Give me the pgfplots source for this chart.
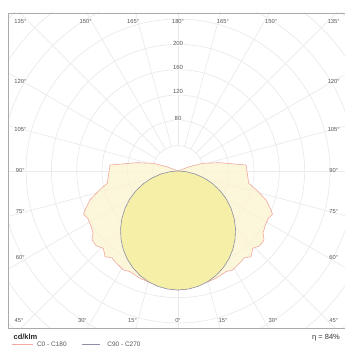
\documentclass[border=0pt]{standalone}
\usepackage{pgfplots}
\usepackage{pgfplotstable}
\pgfplotsset{compat=1.18}
\usepackage{fontspec}
\setmainfont{Liberation Sans}

\definecolor{gridc}{HTML}{EAEAEC}
\definecolor{framec}{HTML}{AAAAAA}
\definecolor{redline}{HTML}{F0A8A0}
\definecolor{redfill}{HTML}{FBF4D4}
\definecolor{circfill}{HTML}{F5EFA8}
\definecolor{circline}{HTML}{8E8EA4}
\definecolor{labelc}{HTML}{555555}

% C0 - C180 : signed gamma (deg), intensity (cd/klm)
\pgfplotstableread{
a I
-112 0
-110.8 19.1
-107.3 40.9
-101.4 66.5
-95 107.9
-80.1 113.4
-76.3 128
-71.8 146.4
-67 160
-65.4 164
-62 161
-57.2 163
-53.9 166.2
-51.3 174
-47.5 175
-44 169.8
-40.4 177.8
-37.2 172.5
-34.8 174.5
-29 178.5
-25.5 176.2
-19.5 179.8
-13.2 182.2
-5.5 186.2
0 188
5.5 186.2
13.2 182.2
19.5 179.8
25.5 176.2
29 178.5
34.8 174.5
37.2 172.5
40.4 177.8
44 169.8
47.5 175
51.3 174
53.9 166.2
57.2 163
62 161
65.4 164
67 160
71.8 146.4
76.3 128
80.1 113.4
95 107.9
101.4 66.5
107.3 40.9
110.8 19.1
112 0
}\redtab

% C90 - C270
\pgfplotstableread{
a I
-90 0
-85 12.8
-80 27.4
-75 42.5
-70 57.8
-65 72.9
-60 87.7
-55 102.0
-50 115.6
-45 128.4
-40 140.2
-35 151.0
-30 160.5
-25 168.7
-20 175.6
-15 181.0
-10 184.9
-5 187.2
0 188
5 187.2
10 184.9
15 181.0
20 175.6
25 168.7
30 160.5
35 151.0
40 140.2
45 128.4
50 115.6
55 102.0
60 87.7
65 72.9
70 57.8
75 42.5
80 27.4
85 12.8
90 0
}\circtab

\begin{document}
\begin{tikzpicture}
\begin{axis}[
  x=0.633pt, y=0.633pt,
  xmin=-268.6, xmax=268.6, ymin=-248, ymax=249.6,
  scale only axis, hide axis, clip=false,
]
% grid
\begin{scope}
  \clip (axis cs:-268.6,-248) rectangle (axis cs:268.6,249.6);
  \pgfplotsinvokeforeach{40,80,120,160,200,240,280,320,360,400}{
    \draw[gridc, line width=0.7pt] (axis cs:0,0) circle[radius=#1];
  }
  \pgfplotsinvokeforeach{0,15,30,45,60,75,90,105,120,135,150,165,180,195,210,225,240,255,270,285,300,315,330,345}{
    \draw[gridc, line width=0.7pt] (axis cs:{40*cos(#1)},{40*sin(#1)}) -- (axis cs:{420*cos(#1)},{420*sin(#1)});
  }
\end{scope}
% curves
\addplot[draw=redline, line width=0.6pt, fill=redfill, fill opacity=0.85]
  table[x expr={\thisrow{I}*sin(\thisrow{a})}, y expr={-\thisrow{I}*cos(\thisrow{a})}] {\redtab} -- cycle;
\addplot[draw=circline, line width=0.6pt, fill=circfill]
  table[x expr={\thisrow{I}*sin(\thisrow{a})}, y expr={-\thisrow{I}*cos(\thisrow{a})}] {\circtab} -- cycle;
% frame
\draw[framec, line width=0.8pt] (axis cs:268.6,249.6) -- (axis cs:-268.6,249.6) -- (axis cs:-268.6,-248) -- (axis cs:300,-248);
% ring labels
\tikzset{rl/.style={font=\fontsize{6}{7}\selectfont, text=labelc, fill=white, inner sep=0.6pt}}
\node[rl] at (axis cs:0,202) {200};
\node[rl] at (axis cs:0,164) {160};
\node[rl] at (axis cs:0,125) {120};
\node[rl] at (axis cs:0,83) {80};
% angle labels
\tikzset{al/.style={font=\fontsize{5.8}{7}\selectfont, text=labelc, inner sep=0pt}}
\node[al] at (axis cs:-249,235.4) {135°};
\node[al] at (axis cs:-146,235.4) {150°};
\node[al] at (axis cs:-71,235.4) {165°};
\node[al] at (axis cs:0,235.4) {180°};
\node[al] at (axis cs:71,235.4) {165°};
\node[al] at (axis cs:147,235.4) {150°};
\node[al] at (axis cs:246,235.4) {135°};
\node[al] at (axis cs:-249,140.6) {120°};
\node[al] at (axis cs:-249,64.8) {105°};
\node[al] at (axis cs:-249,0) {90°};
\node[al] at (axis cs:-249,-63.2) {75°};
\node[al] at (axis cs:-249,-135.9) {60°};
\node[al] at (axis cs:246,140.6) {120°};
\node[al] at (axis cs:246,64.8) {105°};
\node[al] at (axis cs:246,0) {90°};
\node[al] at (axis cs:246,-63.2) {75°};
\node[al] at (axis cs:246,-135.9) {60°};
\node[al] at (axis cs:-251,-235.4) {45°};
\node[al] at (axis cs:-151,-235.4) {30°};
\node[al] at (axis cs:-72,-235.4) {15°};
\node[al] at (axis cs:0,-235.4) {0°};
\node[al] at (axis cs:71,-235.4) {15°};
\node[al] at (axis cs:150,-235.4) {30°};
\node[al] at (axis cs:246,-235.4) {45°};
% footer
\node[anchor=west, font=\bfseries\fontsize{7.5}{8}\selectfont, text=black!85, inner sep=0pt] at (axis cs:-260,-262.5) {cd/klm};
\node[anchor=east, font=\fontsize{7.5}{8}\selectfont, text=black!80, inner sep=0pt] at (axis cs:256,-262.5) {η = 84\%};
\draw[redline, line width=0.6pt] (axis cs:-262,-273.5) -- (axis cs:-229,-273.5);
\node[anchor=west, font=\fontsize{6.5}{7}\selectfont, text=labelc, inner sep=0pt] at (axis cs:-223,-273.5) {C0 - C180};
\draw[circline, line width=0.6pt] (axis cs:-152,-273.5) -- (axis cs:-123,-273.5);
\node[anchor=west, font=\fontsize{6.5}{7}\selectfont, text=labelc, inner sep=0pt] at (axis cs:-112,-273.5) {C90 - C270};
\coordinate (bbBL) at (axis cs:-281.2,-278);
\coordinate (bbTR) at (axis cs:262.2,270.1);
\end{axis}
\pgfresetboundingbox
\useasboundingbox (bbBL) rectangle (bbTR);
\end{tikzpicture}
\end{document}
